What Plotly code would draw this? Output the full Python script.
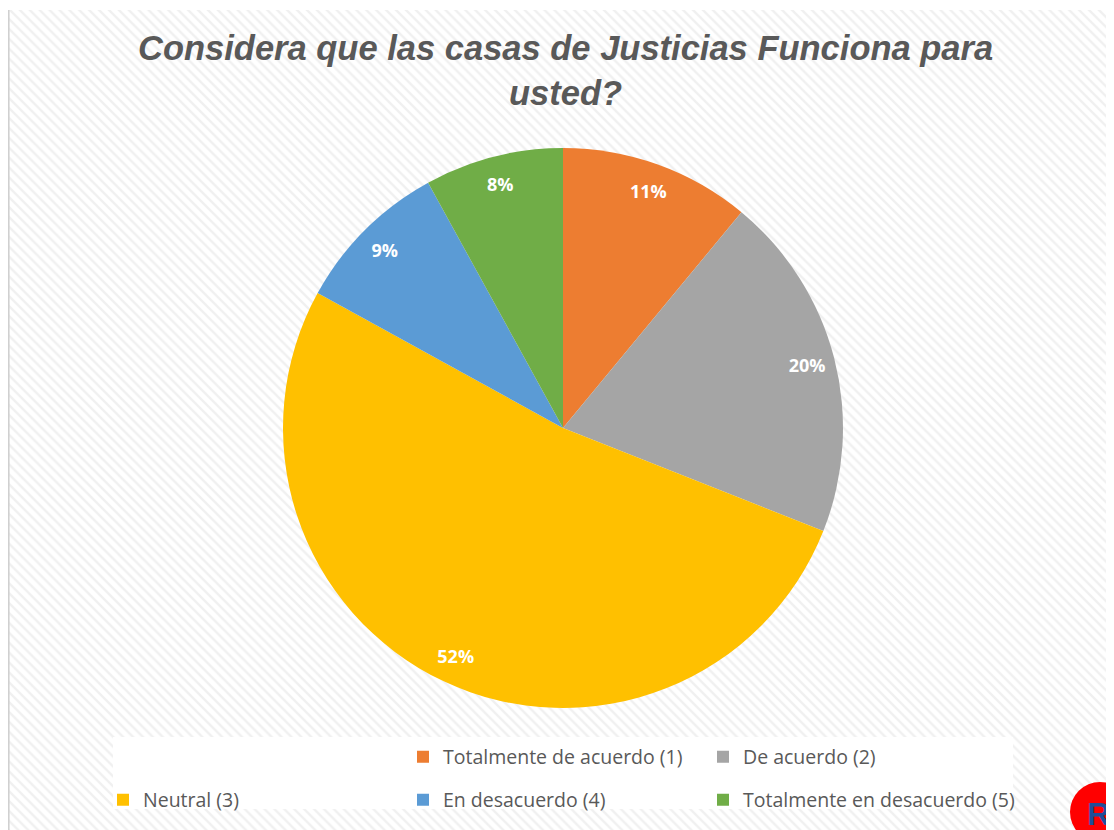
import plotly.graph_objects as go

# ---- data ----
categories = [
    "Totalmente de acuerdo (1)",
    "De acuerdo (2)",
    "Neutral (3)",
    "En desacuerdo (4)",
    "Totalmente en desacuerdo (5)",
]
values = [11, 20, 52, 9, 8]
colors = ["#ED7D31", "#A5A5A5", "#FFC000", "#5B9BD5", "#70AD47"]
title_text = "Considera que las casas de Justicias Funciona para<br>usted?"

W, H = 1114, 830
cx, cy, r = 555, 420, 280
pie_domain = dict(
    x=[(cx - r) / W, (cx + r) / W],
    y=[(H - cy - r) / H, (H - cy + r) / H],
)

fig = go.Figure()

# hatched chart-area background
fig.add_trace(go.Scatter(
    x=[0, W, W, 0, 0], y=[2, 2, H, H, 2],
    fill="toself", mode="lines", line=dict(width=0),
    fillcolor="white",
    fillpattern=dict(shape="\\", fgcolor="#e2e2e2", bgcolor="white",
                     size=7, solidity=0.35),
    hoverinfo="skip", showlegend=False,
))

# main pie
fig.add_trace(go.Pie(
    labels=categories, values=values, sort=False,
    direction="clockwise", rotation=0,
    marker=dict(colors=colors, line=dict(width=0)),
    textinfo="none", showlegend=False, domain=pie_domain,
    hovertemplate="%{label}: %{percent}<extra></extra>",
))

# label ring (transparent donut so labels sit near the outer edge)
fig.add_trace(go.Pie(
    labels=categories, values=values, sort=False,
    direction="clockwise", rotation=0, hole=0.8,
    marker=dict(colors=["rgba(0,0,0,0)"] * len(values), line=dict(width=0)),
    textinfo="percent", textposition="inside",
    insidetextorientation="horizontal",
    textfont=dict(family="Open Sans", size=18, color="white", weight="bold"),
    showlegend=False, hoverinfo="skip", domain=pie_domain,
))

# legend entries (laid out in two rows, as in reference)
legend_of = {0: "legend", 1: "legend", 2: "legend2", 3: "legend2", 4: "legend3"}
for i, cat in enumerate(categories):
    fig.add_trace(go.Scatter(
        x=[None], y=[None], mode="markers", name=cat,
        marker=dict(symbol="square", size=12, color=colors[i]),
        legend=legend_of[i],
    ))

legend_font = dict(family="Open Sans", size=19.5, color="#595959")
common = dict(orientation="h", xanchor="left", yanchor="middle",
              bgcolor="rgba(0,0,0,0)", font=legend_font,
              itemclick=False, itemdoubleclick=False)
fig.update_layout(
    width=W, height=H,
    margin=dict(l=0, r=0, t=0, b=0),
    paper_bgcolor="white", plot_bgcolor="rgba(0,0,0,0)",
    xaxis=dict(range=[0, W], visible=False, fixedrange=True, domain=[0, 1]),
    yaxis=dict(range=[H, 0], visible=False, fixedrange=True, domain=[0, 1]),
    legend=dict(x=395 / W, y=1 - 749 / H,
                entrywidthmode="pixels", entrywidth=255, **common),
    legend2=dict(x=95 / W, y=1 - 792 / H,
                 entrywidthmode="pixels", entrywidth=255, **common),
    legend3=dict(x=695 / W, y=1 - 792 / H, **common),
    shapes=[
        # legend white box
        dict(type="rect", xref="x", yref="y", x0=105, x1=1005, y0=729, y1=801,
             fillcolor="white", line=dict(width=0), layer="above"),
        # left border of chart area
        dict(type="line", xref="x", yref="y", x0=0.8, x1=0.8, y0=2, y1=H,
             line=dict(color="#d0d0d0", width=1.6), layer="above"),
        # logo
        dict(type="circle", xref="x", yref="y", x0=1062, x1=1122, y0=774, y1=834,
             fillcolor="#FF0000", line=dict(width=0), layer="above"),
        dict(type="path", xref="x", yref="y",
             path="M 1080,775.5 A 30,30 0 0 1 1080,832.5 Z",
             fillcolor="white", line=dict(color="#1F4E99", width=4), layer="above"),
    ],
    annotations=[
        dict(text=title_text, x=557, y=19, xref="x", yref="y",
             xanchor="center", yanchor="top", showarrow=False,
             font=dict(family="Liberation Sans", size=34.5, color="#595959",
                       weight="bold", style="italic")),
        dict(text="<b>R</b>", x=1090, y=806, xref="x", yref="y",
             showarrow=False, font=dict(family="Liberation Sans", size=32, color="#1F4E99")),
    ],
)

fig.write_html("out.html")
